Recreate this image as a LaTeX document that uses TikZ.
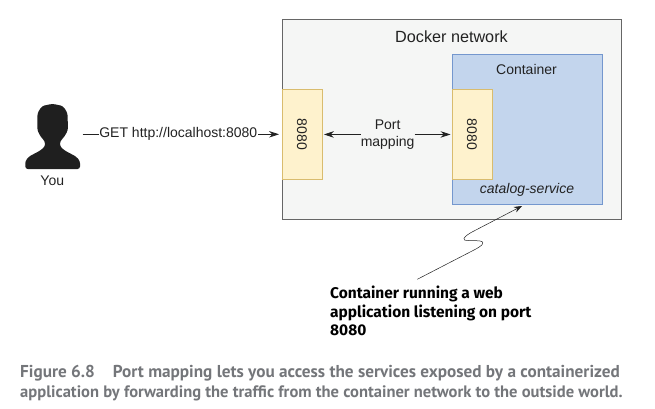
\documentclass[tikz,border=0pt]{standalone}
\usepackage{fontspec}
\setmainfont{Liberation Sans}
\newfontfamily\calloutfont{Fira Sans}
\newfontfamily\captionfont{PT Sans}
\usetikzlibrary{arrows.meta}
\definecolor{netfill}{HTML}{F5F6F5}
\definecolor{netline}{HTML}{666666}
\definecolor{boxfill}{HTML}{C3D5ED}
\definecolor{boxline}{HTML}{7497CE}
\definecolor{portfill}{HTML}{FEF2CD}
\definecolor{portline}{HTML}{D9BC6E}
\definecolor{inktext}{HTML}{222222}
\definecolor{captiontext}{HTML}{74767A}

\begin{document}
\begin{tikzpicture}[
	%	style def (coordinates are pixels of the figure, y going down)
    x=1pt, y=-1pt,
    every node/.style={color=inktext, font=\fontsize{14}{16.5}\selectfont, inner sep=0pt},
    region/.style={draw, line width=0.9pt, anchor=north west},
    port/.style={region, draw=portline, fill=portfill, minimum width=40pt, minimum height=90pt},
    link/.style={color=inktext, line width=0.8pt, -{Stealth[length=10pt,width=6.5pt]}},
    callout/.style={anchor=north west, align=left, color=black, font=\calloutfont\bfseries\fontsize{15.5}{18.5}\selectfont},
    captionline/.style={anchor=base west, color=captiontext, font=\captionfont\bfseries\fontsize{16.55}{18}\selectfont}
    ]
    \useasboundingbox (0,0) rectangle (655,409);

    % network and container
    \node[region, draw=netline, fill=netfill, minimum width=339.5pt, minimum height=200pt] (network) at (281.5,19) {};
    \node[region, draw=boxline, fill=boxfill, minimum width=150pt, minimum height=150pt] (container) at (451.5,54) {};
    \node[font=\fontsize{16.2}{18}\selectfont] (networklabel) at (451.5,36.5) {Docker network};
    \node (containerlabel) at (526.5,69) {Container};
    \node (servicelabel) at (527,189.5) {\itshape catalog-service};

    % ports
    \node[port] (hostport) at (281.5,89) {};
    \node[port] (appport) at (451.5,89) {};
    \node[rotate=-90] (hostportlabel) at (hostport.center) {8080};
    \node[rotate=-90] (appportlabel) at (appport.center) {8080};

    % person
    \fill[color=black!88, rounded corners=2.5pt] (25.3,169) -- (25.3,161) -- (29,156.5) -- (40,150.7) -- (45,146.5) -- (45,141.5)
        -- (40.5,136.5) -- (37.3,130) -- (37.5,113) -- (42,106) -- (52.5,103.8) -- (63,106) -- (67.5,113) -- (68,130)
        -- (64.5,136.5) -- (60,141.5) -- (60,146.5) -- (65,150.7) -- (76,156.5) -- (80,161) -- (80,169) -- cycle;
    \node (you) at (52.3,181) {You};

    % connections
    \coordinate (getstart) at (82.5,134.3);
    \draw[link] (getstart) -- ([xshift=-2.5pt]hostport.west |- getstart);
    \node[fill=white, inner xsep=0.5pt, minimum height=16pt] (getlabel) at (178.3,134.3) {GET http://localhost:8080};
    \node[align=center, fill=netfill] (maplabel) at (387.6,134.5) {Port\\mapping};
    \draw[link] (maplabel.west |- hostport.center) -- ([xshift=1.5pt]hostport.east);
    \draw[link] (maplabel.east |- appport.center) -- ([xshift=-1pt]appport.west);

    % squiggle to the container
    \coordinate (squigglestart) at (417.3,279.3);
    \coordinate (squiggleend) at (522,206);
    \draw[color=inktext, line width=0.5pt, -{Stealth[length=8pt,width=6pt]}] (squigglestart) -- (474,250)
        .. controls (482,246) and (486,242) .. (480,241)
        .. controls (472,240) and (462,241.5) .. (464,238.5)
        .. controls (465,236) and (470,233) .. (473,231.5) -- (squiggleend);

    % text below
    \node[callout] (calloutlabel) at (330,286) {Container running a web\\application listening on port\\8080};
    \node[captionline, font=\captionfont\bfseries\fontsize{17.2}{18}\selectfont] (captionone) at (20,377) {Figure 6.8\hspace{18pt}Port mapping lets you access the services exposed by a containerized};
    \node[captionline] (captiontwo) at (20,397) {application by forwarding the traffic from the container network to the outside world.};
\end{tikzpicture}
\end{document}
